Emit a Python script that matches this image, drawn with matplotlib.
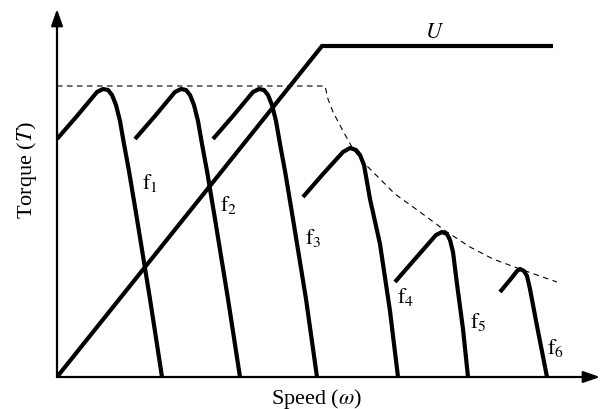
import matplotlib
matplotlib.use('Agg')
import matplotlib.pyplot as plt

plt.rcParams['font.family'] = ['Liberation Serif', 'DejaVu Serif']
plt.rcParams['mathtext.fontset'] = 'stix'

# torque-speed curves (speed, torque)
f1_speed = [0, 20, 40, 46, 51, 55, 59, 63, 67, 72, 80, 93, 105]
f1_torque = [238, 261, 285, 288, 287, 282, 272, 256, 233, 206, 158, 78, 0]
f2_speed = [78, 98, 118, 124, 129, 133, 137, 141, 145, 150, 158, 171, 183]
f2_torque = [238, 261, 285, 288, 287, 282, 272, 256, 233, 206, 158, 78, 0]
f3_speed = [156, 176, 196, 202, 207, 211, 215, 219, 223, 228, 236, 249, 260]
f3_torque = [238, 261, 285, 288, 287, 282, 272, 256, 233, 206, 158, 78, 0]
f4_speed = [246, 266, 286, 293, 299, 303, 307, 313, 323, 333, 341]
f4_torque = [180, 203, 225, 229, 227, 222, 212, 178, 133, 66, 0]
f5_speed = [338, 358, 379, 385, 390, 393, 396, 400, 406, 411]
f5_torque = [95, 118, 142, 145, 143, 137, 125, 93, 48, 0]
f6_speed = [443, 453, 460, 463, 467, 470, 473, 480, 490]
f6_torque = [85, 97, 106, 108, 106, 101, 88, 51, 0]

curves = [(f1_speed, f1_torque), (f2_speed, f2_torque), (f3_speed, f3_torque),
          (f4_speed, f4_torque), (f5_speed, f5_torque), (f6_speed, f6_torque)]
curve_labels = [r'$\mathrm{f}_1$', r'$\mathrm{f}_2$', r'$\mathrm{f}_3$',
                r'$\mathrm{f}_4$', r'$\mathrm{f}_5$', r'$\mathrm{f}_6$']
label_pos = [(93, 195), (172, 173), (256, 140), (349, 81), (421, 56), (499, 30)]

# voltage line
u_speed = [0, 265, 496]
u_value = [0, 331, 331]

# max torque envelope
env_speed = [0, 268, 271, 276, 286, 296, 308, 320, 338, 363, 390, 413, 436, 463, 500]
env_torque = [291, 291, 278, 265, 246, 228, 213, 201, 183, 165, 145, 130, 118, 108, 95]

fig = plt.figure(figsize=(6, 4.1), dpi=100)
ax = fig.add_axes([57/600, 1 - 378/410, 543/600, 368/410])
ax.set_xlim(0, 543)
ax.set_ylim(0, 368)
ax.axis('off')

ax.plot(env_speed, env_torque, color='black', lw=0.8, dashes=(5, 4))
ax.plot(u_speed, u_value, color='black', lw=3, solid_capstyle='butt',
        solid_joinstyle='miter')
for (s, t), lab, (lx, ly) in zip(curves, curve_labels, label_pos):
    ax.plot(s, t, color='black', lw=3, solid_capstyle='butt',
            solid_joinstyle='round')
    ax.text(lx, ly, lab, fontsize=16, ha='center', va='center')

ax.text(378, 345, r'$U$', fontsize=16, ha='center', va='center')

# axes with arrows
arr = dict(arrowstyle='-|>,head_length=1.0,head_width=0.35', color='black',
           lw=1.6, mutation_scale=10, shrinkA=0, shrinkB=0)
ax.annotate('', xy=(1, 0), xytext=(0, 0), xycoords='axes fraction',
            textcoords='axes fraction', arrowprops=arr, annotation_clip=False)
ax.annotate('', xy=(0, 1), xytext=(0, 0), xycoords='axes fraction',
            textcoords='axes fraction', arrowprops=arr, annotation_clip=False)

fig.text(317/600, 1 - 399/410, r'Speed ($\omega$)', fontsize=16,
         ha='center', va='center')
fig.text(27/600, 1 - 170/410, r'Torque ($T$)', fontsize=16,
         ha='center', va='center', rotation=90)

fig.savefig('out.png', dpi=100)
